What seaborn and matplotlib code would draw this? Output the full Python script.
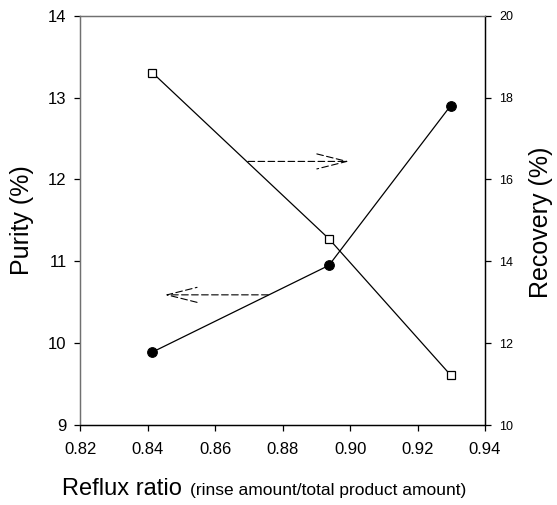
import matplotlib
matplotlib.use("Agg")
import matplotlib.pyplot as plt
import seaborn as sns
import pandas as pd

reflux = [0.8413, 0.8937, 0.9298]
purity = [9.89, 10.95, 12.90]
recovery = [18.61, 14.55, 11.22]
x_ticks = [0.82, 0.84, 0.86, 0.88, 0.90, 0.92, 0.94]
left_ticks = [9, 10, 11, 12, 13, 14]
right_ticks = [10, 12, 14, 16, 18, 20]

sns.set_theme(style="ticks")
plt.rcParams['font.family'] = ['Liberation Sans', 'DejaVu Sans']
plt.rcParams['text.color'] = 'black'
plt.rcParams['xtick.color'] = 'black'
plt.rcParams['ytick.color'] = 'black'
plt.rcParams['xtick.labelcolor'] = 'black'
plt.rcParams['ytick.labelcolor'] = 'black'

df = pd.DataFrame({"reflux": reflux, "purity": purity, "recovery": recovery})

fig = plt.figure(figsize=(5.57, 5.05), dpi=100)
ax = fig.add_axes([0.1445, 0.1584, 0.7262, 0.8105])
ax2 = ax.twinx()

sns.lineplot(data=df, x="reflux", y="purity", ax=ax, color="black", lw=0.9,
             marker="o", markersize=7, markerfacecolor="black", markeredgecolor="black")
sns.lineplot(data=df, x="reflux", y="recovery", ax=ax2, color="black", lw=0.9,
             marker="s", markersize=6, markerfacecolor="white", markeredgecolor="black",
             markeredgewidth=0.9)

ax.set_xlim(0.82, 0.94)
ax.set_ylim(9, 14)
ax2.set_ylim(10, 20)
ax.set_xticks(x_ticks)
ax.set_xticklabels([f"{v:.2f}" for v in x_ticks], fontsize=12)
ax.set_yticks(left_ticks)
ax.set_yticklabels([str(v) for v in left_ticks], fontsize=12)
ax2.set_yticks(right_ticks)
ax2.set_yticklabels([str(v) for v in right_ticks], fontsize=9)
ax.set_xlabel("")
ax.set_ylabel("")
ax2.set_ylabel("")

for a in (ax, ax2):
    for s in a.spines.values():
        s.set_linewidth(0.9)
    a.tick_params(direction="out", length=4, width=0.9, color="black")
for a in (ax, ax2):
    a.spines["left"].set_color("#707070")
    a.spines["top"].set_color("#707070")
    a.spines["bottom"].set_color("black")
    a.spines["right"].set_color("black")
ax.tick_params(axis="x", pad=8)
ax.tick_params(axis="y", pad=6)
ax2.tick_params(axis="y", pad=6)

# dashed arrows
arrow_style = "->,head_length=1.8,head_width=0.45"
ax.annotate("", xy=(0.8997, 12.22), xytext=(0.8697, 12.22),
            arrowprops=dict(arrowstyle=arrow_style, ls=(0, (6, 3)),
                            color="black", lw=0.8, shrinkA=0, shrinkB=0))
ax.annotate("", xy=(0.8450, 10.59), xytext=(0.8757, 10.59),
            arrowprops=dict(arrowstyle=arrow_style, ls=(0, (6, 3)),
                            color="black", lw=0.8, shrinkA=0, shrinkB=0))

fig.text(22 / 557, 1 - 220 / 505, "Purity (%)", rotation=90, ha="center", va="center", fontsize=18)
fig.text(541 / 557, 1 - 222 / 505, "Recovery (%)", rotation=90, ha="center", va="center", fontsize=18)
fig.text(62 / 557, 1 - 495 / 505, "Reflux ratio", ha="left", va="baseline", fontsize=17)
fig.text(190 / 557, 1 - 495 / 505, "(rinse amount/total product amount)", ha="left", va="baseline", fontsize=12.5)

fig.savefig("out.png", dpi=100)
